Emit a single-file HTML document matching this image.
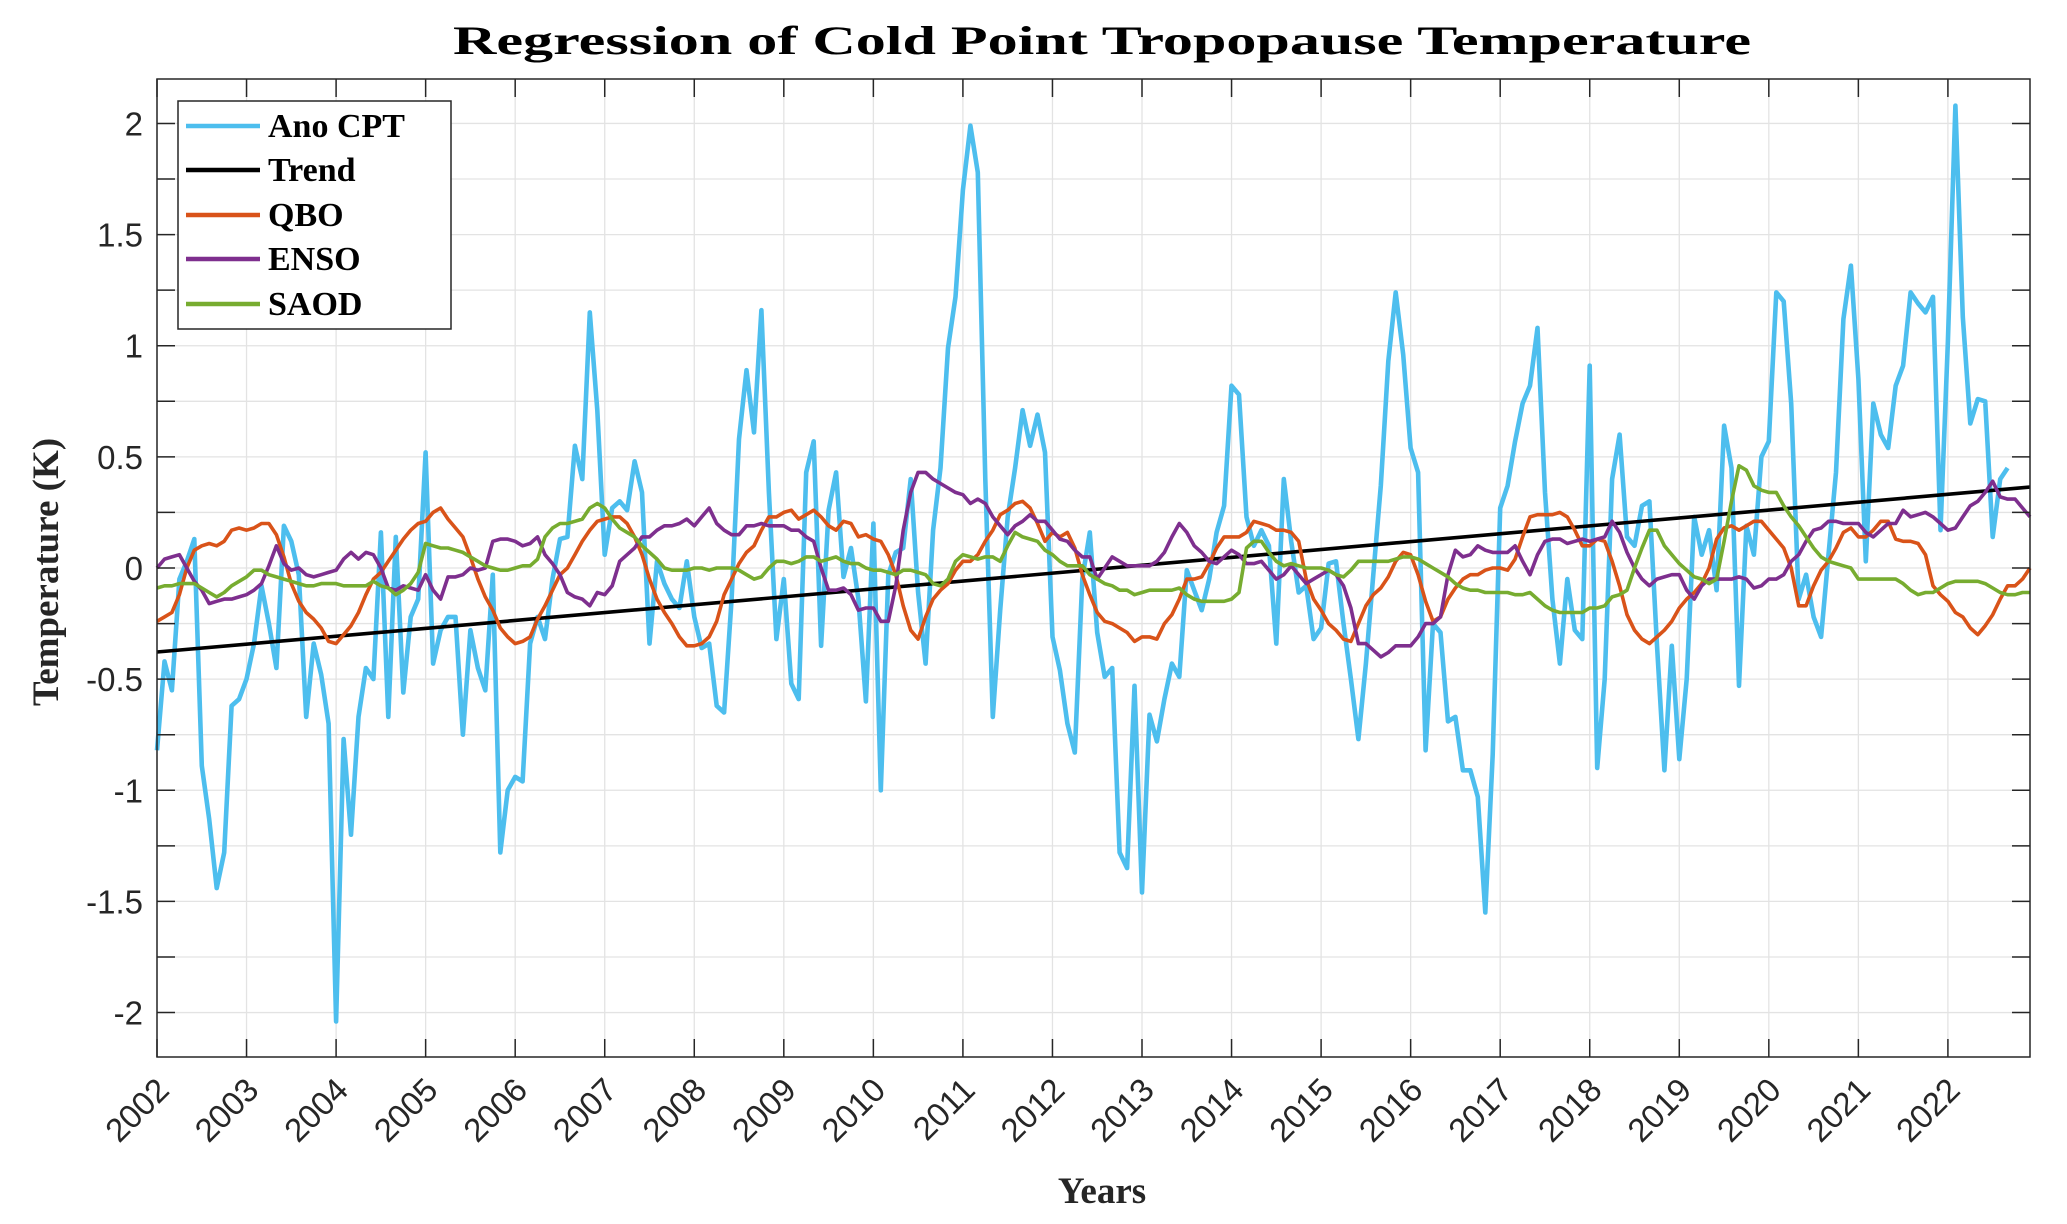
<!DOCTYPE html>
<html><head><meta charset="utf-8">
<style>
html,body{margin:0;padding:0;background:#fff;}
svg{display:block;}
</style></head>
<body>
<svg id="chart" width="2067" height="1224" viewBox="0 0 2067 1224" xmlns="http://www.w3.org/2000/svg">
<rect width="2067" height="1224" fill="#fff"/>
<text x="1102" y="54" text-anchor="middle" font-family="Liberation Serif, serif" font-weight="bold" font-size="40" textLength="1298" lengthAdjust="spacingAndGlyphs" fill="#000">Regression of Cold Point Tropopause Temperature</text>
<g id="grid"></g>
<g id="series"></g>
<g id="axes"></g>
<text x="1102" y="1203" text-anchor="middle" font-family="Liberation Serif, serif" font-weight="bold" font-size="37" fill="#262626">Years</text>
<text transform="translate(58,572) rotate(-90)" text-anchor="middle" font-family="Liberation Serif, serif" font-weight="bold" font-size="37" fill="#262626">Temperature (K)</text>
<g id="legend">
<rect x="178" y="101" width="273" height="228" fill="#fff" stroke="#262626" stroke-width="1.5"/>
<line x1="186" y1="126" x2="260" y2="126" stroke="#4DBEEE" stroke-width="4.5"/>
<text x="268" y="137" font-family="Liberation Serif, serif" font-weight="bold" font-size="34" fill="#000">Ano CPT</text>
<line x1="186" y1="170" x2="260" y2="170" stroke="#000" stroke-width="4.5"/>
<text x="268" y="181" font-family="Liberation Serif, serif" font-weight="bold" font-size="34" fill="#000">Trend</text>
<line x1="186" y1="215" x2="260" y2="215" stroke="#D95319" stroke-width="4.5"/>
<text x="268" y="226" font-family="Liberation Serif, serif" font-weight="bold" font-size="34" fill="#000">QBO</text>
<line x1="186" y1="259" x2="260" y2="259" stroke="#7E2F8E" stroke-width="4.5"/>
<text x="268" y="270" font-family="Liberation Serif, serif" font-weight="bold" font-size="34" fill="#000">ENSO</text>
<line x1="186" y1="304" x2="260" y2="304" stroke="#77AC30" stroke-width="4.5"/>
<text x="268" y="315" font-family="Liberation Serif, serif" font-weight="bold" font-size="34" fill="#000">SAOD</text>
</g>
</svg>
<script>
var startYear = 2002;
var years = [2002,2003,2004,2005,2006,2007,2008,2009,2010,2011,2012,2013,2014,2015,2016,2017,2018,2019,2020,2021,2022];
var yTicks = [2,1.5,1,0.5,0,-0.5,-1,-1.5,-2];
var yTickLabels = ["2","1.5","1","0.5","0","-0.5","-1","-1.5","-2"];
var trendStart = -0.378;
var trendEnd = 0.364;
var anoCPT = [
-0.82,-0.42,-0.55,-0.05,0.03,0.13,-0.89,-1.13,-1.44,-1.28,-0.62,-0.59,
-0.50,-0.34,-0.08,-0.25,-0.45,0.19,0.12,-0.03,-0.67,-0.34,-0.48,-0.70,
-2.04,-0.77,-1.20,-0.67,-0.45,-0.50,0.16,-0.67,0.14,-0.56,-0.22,-0.14,
0.52,-0.43,-0.28,-0.22,-0.22,-0.75,-0.28,-0.45,-0.55,-0.03,-1.28,-1.0,
-0.94,-0.96,-0.34,-0.22,-0.32,-0.05,0.13,0.14,0.55,0.40,1.15,0.71,
0.06,0.27,0.30,0.26,0.48,0.34,-0.34,0.03,-0.07,-0.14,-0.18,0.03,
-0.22,-0.36,-0.34,-0.62,-0.65,-0.14,0.58,0.89,0.61,1.16,0.34,-0.32,
-0.05,-0.52,-0.59,0.43,0.57,-0.35,0.26,0.43,-0.04,0.09,-0.14,-0.60,
0.20,-1.0,-0.03,0.07,0.09,0.40,-0.11,-0.43,0.17,0.45,0.99,1.22,
1.7,1.99,1.78,0.40,-0.67,-0.19,0.23,0.45,0.71,0.55,0.69,0.52,
-0.31,-0.46,-0.70,-0.83,-0.05,0.16,-0.29,-0.49,-0.45,-1.28,-1.35,-0.53,
-1.46,-0.66,-0.78,-0.59,-0.43,-0.49,-0.01,-0.1,-0.19,-0.05,0.16,0.28,
0.82,0.78,0.23,0.1,0.17,0.1,-0.34,0.4,0.12,-0.11,-0.08,-0.32,
-0.27,0.02,0.03,-0.25,-0.5,-0.77,-0.43,-0.03,0.37,0.93,1.24,0.96,
0.54,0.43,-0.82,-0.25,-0.29,-0.69,-0.67,-0.91,-0.91,-1.03,-1.55,-0.84,
0.27,0.37,0.57,0.74,0.82,1.08,0.34,-0.14,-0.43,-0.05,-0.28,-0.32,
0.91,-0.9,-0.5,0.4,0.6,0.14,0.1,0.28,0.3,-0.34,-0.91,-0.35,
-0.86,-0.5,0.23,0.06,0.17,-0.1,0.64,0.45,-0.53,0.19,0.06,0.5,
0.57,1.24,1.2,0.74,-0.14,-0.03,-0.22,-0.31,0.06,0.43,1.12,1.36,
0.85,0.03,0.74,0.6,0.54,0.82,0.91,1.24,1.19,1.15,1.22,0.17,
1.02,2.08,1.13,0.65,0.76,0.75,0.14,0.4,0.45];
var qbo = [
-0.24,-0.22,-0.2,-0.12,0.0,0.08,0.1,0.11,0.1,0.12,0.17,0.18,0.17,0.18,0.2,0.2,0.15,0.05,-0.07,-0.15,-0.2,-0.23,-0.27,-0.33,-0.34,-0.3,-0.26,-0.2,-0.12,-0.05,-0.02,0.03,0.08,0.13,0.17,0.2,0.21,0.25,0.27,0.22,0.18,0.14,0.05,
-0.05,-0.13,-0.19,-0.27,-0.31,-0.34,-0.33,-0.31,-0.23,-0.17,-0.1,-0.03,0.0,0.06,0.12,0.17,0.21,0.22,0.23,0.23,0.2,0.14,0.06,-0.05,-0.14,-0.2,-0.25,-0.31,-0.35,-0.35,-0.34,-0.31,-0.24,-0.12,-0.05,0.02,0.07,0.1,0.17,0.23,0.23,0.25,0.26,
0.22,0.24,0.26,0.23,0.19,0.17,0.21,0.2,0.14,0.15,0.13,0.12,0.06,-0.03,-0.17,-0.28,-0.32,-0.22,-0.14,-0.1,-0.07,-0.01,0.03,0.03,0.06,0.12,0.17,0.24,0.26,0.29,0.3,0.27,0.2,0.12,0.16,0.14,0.16,0.09,-0.03,-0.12,-0.2,-0.24,
-0.25,-0.27,-0.29,-0.33,-0.31,-0.31,-0.32,-0.25,-0.21,-0.14,-0.05,-0.05,-0.04,0.02,0.09,0.14,0.14,0.14,0.16,0.21,0.2,0.19,0.17,0.17,0.16,0.12,-0.05,-0.14,-0.19,-0.25,-0.28,-0.32,-0.33,-0.25,-0.17,-0.12,-0.09,-0.04,0.03,0.07,0.06,-0.03,
-0.15,-0.24,-0.22,-0.14,-0.09,-0.05,-0.03,-0.03,-0.01,0.0,0.0,-0.01,0.04,0.14,0.23,0.24,0.24,0.24,0.25,0.23,0.17,0.1,0.1,0.13,0.12,0.03,-0.08,-0.21,-0.28,-0.32,-0.34,-0.31,-0.28,-0.24,-0.18,-0.14,-0.11,-0.07,0.0,0.13,0.18,
0.19,0.17,0.19,0.21,0.21,0.17,0.13,0.09,0.0,-0.17,-0.17,-0.08,-0.01,0.03,0.09,0.16,0.18,0.14,0.14,0.17,0.21,0.21,0.13,0.12,0.12,0.11,0.06,-0.08,-0.12,-0.15,-0.2,-0.22,-0.27,-0.3,-0.26,-0.21,-0.14,-0.08,-0.08,-0.05,0.0];
var enso = [
0.0,0.04,0.05,0.06,0.0,-0.06,-0.1,-0.16,-0.15,-0.14,-0.14,-0.13,-0.12,-0.1,-0.07,0.01,0.1,0.02,-0.01,0.0,-0.03,-0.04,-0.03,-0.02,-0.01,0.04,0.07,0.04,0.07,0.06,0.0,-0.09,-0.1,-0.08,-0.09,-0.1,-0.03,-0.1,-0.14,-0.04,-0.04,-0.03,0.0,
-0.01,0.0,0.12,0.13,0.13,0.12,0.1,0.11,0.14,0.06,0.02,-0.03,-0.11,-0.13,-0.14,-0.17,-0.11,-0.12,-0.08,0.03,0.06,0.09,0.14,0.14,0.17,0.19,0.19,0.2,0.22,0.19,0.23,0.27,0.2,0.17,0.15,0.15,0.19,0.19,0.2,0.19,0.19,0.19,0.17,
0.17,0.14,0.12,0.0,-0.1,-0.1,-0.09,-0.12,-0.19,-0.18,-0.18,-0.24,-0.24,-0.08,0.17,0.34,0.43,0.43,0.4,0.38,0.36,0.34,0.33,0.29,0.31,0.29,0.23,0.19,0.15,0.19,0.21,0.24,0.21,0.21,0.17,0.13,0.12,0.08,0.05,0.05,-0.05,0.0,
0.05,0.03,0.01,0.01,0.01,0.01,0.03,0.07,0.14,0.2,0.16,0.1,0.07,0.03,0.02,0.05,0.08,0.06,0.02,0.02,0.03,-0.01,-0.05,-0.03,0.01,-0.03,-0.07,-0.05,-0.03,-0.01,-0.03,-0.08,-0.18,-0.34,-0.34,-0.37,-0.4,-0.38,-0.35,-0.35,-0.35,-0.31,
-0.25,-0.25,-0.22,-0.03,0.08,0.05,0.06,0.1,0.08,0.07,0.07,0.07,0.1,0.03,-0.03,0.06,0.12,0.13,0.13,0.11,0.12,0.13,0.12,0.13,0.14,0.21,0.16,0.07,0.0,-0.05,-0.08,-0.05,-0.04,-0.03,-0.03,-0.1,-0.14,-0.08,-0.05,-0.05,-0.05,-0.05,
-0.04,-0.05,-0.09,-0.08,-0.05,-0.05,-0.03,0.03,0.06,0.12,0.17,0.18,0.21,0.21,0.2,0.2,0.2,0.16,0.14,0.17,0.2,0.2,0.26,0.23,0.24,0.25,0.23,0.2,0.17,0.18,0.23,0.28,0.3,0.34,0.39,0.32,0.31,0.31,0.27,0.23];
var saod = [
-0.09,-0.08,-0.08,-0.07,-0.07,-0.07,-0.09,-0.11,-0.13,-0.11,-0.08,-0.06,-0.04,-0.01,-0.01,-0.03,-0.04,-0.05,-0.06,-0.07,-0.08,-0.08,-0.07,-0.07,-0.07,-0.08,-0.08,-0.08,-0.08,-0.06,-0.08,-0.09,-0.12,-0.1,-0.07,-0.02,0.11,0.1,0.09,0.09,0.08,0.07,0.05,
0.03,0.01,0.0,-0.01,-0.01,0.0,0.01,0.01,0.04,0.14,0.18,0.2,0.2,0.21,0.22,0.27,0.29,0.27,0.22,0.18,0.16,0.14,0.1,0.07,0.04,0.0,-0.01,-0.01,-0.01,0.0,0.0,-0.01,0.0,0.0,0.0,-0.01,-0.03,-0.05,-0.04,0.0,0.03,0.03,0.02,
0.03,0.05,0.05,0.03,0.04,0.05,0.03,0.02,0.02,0.0,-0.01,-0.01,-0.02,-0.03,-0.01,-0.01,-0.02,-0.03,-0.07,-0.08,-0.05,0.03,0.06,0.05,0.04,0.05,0.05,0.03,0.1,0.16,0.14,0.13,0.12,0.08,0.06,0.03,0.01,0.01,0.01,-0.03,-0.05,-0.07,
-0.08,-0.1,-0.1,-0.12,-0.11,-0.1,-0.1,-0.1,-0.1,-0.09,-0.12,-0.14,-0.15,-0.15,-0.15,-0.15,-0.14,-0.11,0.09,0.12,0.12,0.07,0.03,0.01,0.02,0.01,0.0,0.0,0.0,-0.01,-0.03,-0.04,-0.01,0.03,0.03,0.03,0.03,0.03,0.04,0.05,0.05,0.04,
0.02,0.0,-0.02,-0.04,-0.07,-0.09,-0.1,-0.1,-0.11,-0.11,-0.11,-0.11,-0.12,-0.12,-0.11,-0.14,-0.17,-0.19,-0.2,-0.2,-0.2,-0.2,-0.18,-0.18,-0.17,-0.13,-0.12,-0.1,0.0,0.09,0.17,0.17,0.1,0.06,0.02,-0.01,-0.04,-0.05,-0.07,-0.05,0.12,0.3,
0.46,0.44,0.37,0.35,0.34,0.34,0.28,0.23,0.19,0.14,0.09,0.05,0.03,0.02,0.01,0.0,-0.05,-0.05,-0.05,-0.05,-0.05,-0.05,-0.07,-0.1,-0.12,-0.11,-0.11,-0.09,-0.07,-0.06,-0.06,-0.06,-0.06,-0.07,-0.09,-0.11,-0.12,-0.12,-0.11,-0.11];

var NS = "http://www.w3.org/2000/svg";
var PL = 157, PR = 2030, PT = 79, PB = 1057;
var XMIN = 2002, XMAX = 2002 + 251/12;
var YMIN = -2.2, YMAX = 2.2;
function xs(t){ return PL + (t - XMIN) / (XMAX - XMIN) * (PR - PL); }
function ys(v){ return PB - (v - YMIN) / (YMAX - YMIN) * (PB - PT); }
function mk(tag, attrs, parent){
  var e = document.createElementNS(NS, tag);
  for (var k in attrs) e.setAttribute(k, attrs[k]);
  parent.appendChild(e);
  return e;
}
var grid = document.getElementById('grid');
var axes = document.getElementById('axes');
var series = document.getElementById('series');

for (var v = -2; v <= 2.001; v += 0.25) {
  var gl = mk('line', {x1:PL, x2:PR, y1:ys(v), y2:ys(v), stroke:'#e3e3e3', 'stroke-width':1.3}, grid);
  
  
}
years.forEach(function(yr){
  var gv = mk('line', {x1:xs(yr), x2:xs(yr), y1:PT, y2:PB, stroke:'#e3e3e3', 'stroke-width':1.3}, grid);
  
  
});

function drawSeries(arr, color, width, name){
  var d = '';
  for (var i = 0; i < arr.length; i++) {
    var t = startYear + i / 12;
    d += (i ? 'L' : 'M') + xs(t).toFixed(1) + ',' + ys(arr[i]).toFixed(1);
  }
  var p = mk('path', {d:d, fill:'none', stroke:color, 'stroke-width':width, 'stroke-linejoin':'round'}, series);
  
  
}
drawSeries(anoCPT, '#4DBEEE', 4.6, 'ano-cpt-line');
var tr = mk('line', {x1:xs(XMIN), y1:ys(trendStart), x2:xs(XMAX), y2:ys(trendEnd), stroke:'#000', 'stroke-width':3.6}, series);


drawSeries(qbo, '#D95319', 3.6, 'qbo-line');
drawSeries(enso, '#7E2F8E', 3.6, 'enso-line');
drawSeries(saod, '#77AC30', 3.6, 'saod-line');

var box = mk('rect', {x:PL, y:PT, width:PR-PL, height:PB-PT, fill:'none', stroke:'#262626', 'stroke-width':1.5}, axes);


for (var v2 = -2; v2 <= 2.001; v2 += 0.25) {
  var y = ys(v2);
  var tl = mk('line', {x1:PL, x2:PL+18, y1:y, y2:y, stroke:'#262626', 'stroke-width':1.5}, axes);
  
  
  var tr2 = mk('line', {x1:PR-18, x2:PR, y1:y, y2:y, stroke:'#262626', 'stroke-width':1.5}, axes);
  
  
}
yTicks.forEach(function(v, k){
  var tx = mk('text', {x:143, y:ys(v)+12, 'text-anchor':'end', 'font-family':'Liberation Sans, sans-serif', 'font-size':33, fill:'#262626'}, axes);
  tx.textContent = yTickLabels[k];
  
  
});
years.forEach(function(yr){
  var x = xs(yr);
  var tb = mk('line', {x1:x, x2:x, y1:PB-18, y2:PB, stroke:'#262626', 'stroke-width':1.5}, axes);
  
  
  var tt = mk('line', {x1:x, x2:x, y1:PT, y2:PT+18, stroke:'#262626', 'stroke-width':1.5}, axes);
  
  
  var lb = mk('text', {'text-anchor':'end', 'font-family':'Liberation Sans, sans-serif', 'font-size':33, fill:'#262626', transform:'translate(' + (x+14) + ',1092) rotate(-45)'}, axes);
  lb.textContent = String(yr);
  
  
});
</script>
</body></html>
